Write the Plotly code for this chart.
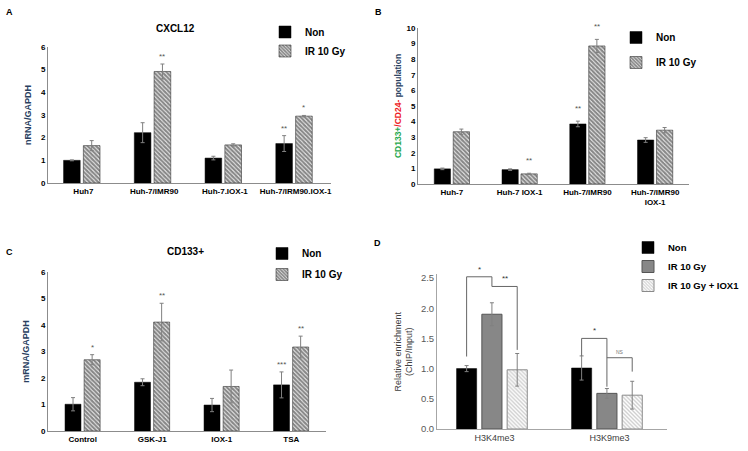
import plotly.graph_objects as go

# ---------------- data ----------------
A_cats = ["Huh7", "Huh-7/IMR90", "Huh-7.IOX-1", "Huh-7/IRM90.IOX-1"]
A_non = [1.00, 2.22, 1.10, 1.74]
A_non_err = [0.02, 0.44, 0.08, 0.35]
A_ir = [1.65, 4.92, 1.68, 2.95]
A_ir_err = [0.22, 0.33, 0.05, 0.03]
A_non_sig = ["", "", "", "**"]
A_ir_sig = ["", "**", "", "*"]

B_cats = ["Huh-7", "Huh-7 IOX-1", "Huh-7/IMR90", "Huh-7/IMR90<br>IOX-1"]
B_non = [0.97, 0.92, 3.85, 2.82]
B_non_err = [0.05, 0.05, 0.18, 0.15]
B_ir = [3.35, 0.65, 8.85, 3.45]
B_ir_err = [0.17, 0.04, 0.42, 0.17]
B_non_sig = ["", "", "**", ""]
B_ir_sig = ["", "**", "**", ""]

C_cats = ["Control", "GSK-J1", "IOX-1", "TSA"]
C_non = [1.01, 1.84, 0.98, 1.74]
C_non_err = [0.25, 0.13, 0.25, 0.49]
C_ir = [2.69, 4.11, 1.68, 3.17]
C_ir_err = [0.19, 0.71, 0.62, 0.41]
C_non_sig = ["", "", "", "***"]
C_ir_sig = ["*", "**", "", "**"]

D_cats = ["H3K4me3", "H3K9me3"]
D_non = [1.00, 1.01]
D_non_err = [0.05, 0.20]
D_ir = [1.90, 0.59]
D_ir_err = [0.19, 0.08]
D_iox = [0.98, 0.56]
D_iox_err = [0.27, 0.23]
# brackets: (category, series_a, series_b, top, left_leg_end, right_leg_end, label)
D_brackets = [
    (0, 0, 1, 2.52, 1.20, 2.36, "*"),
    (0, 1, 2, 2.36, 2.36, 1.31, "**"),
    (1, 0, 1, 1.50, 1.21, 0.70, "*"),
    (1, 1, 2, 1.18, 1.18, 0.95, "NS"),
]

FONT = "Liberation Sans, Arial, sans-serif"
W, H = 748, 451
HATCH = dict(shape="\\", fgcolor="#111111", bgcolor="#ffffff", size=3, solidity=0.75)
LIGHT_HATCH = dict(shape="\\", fgcolor="#a0a0a0", bgcolor="#ffffff", size=2.8, solidity=0.5)
ERR = dict(type="data", color="#808080", thickness=1, width=2)


def px_x(p):
    return p / W


def px_y(p):
    return 1 - p / H


fig = go.Figure()


def add_pair(cats, non, non_err, ir, ir_err, xa, ya, legend, width, offs, groups=False):
    idx = list(range(len(cats)))
    fig.add_trace(go.Bar(
        x=idx, y=non, name="Non", xaxis=xa, yaxis=ya, legend=legend,
        width=width, offset=offs[0],
        marker=dict(color="#000000", line=dict(color="#000000", width=0.5)),
        error_y=dict(array=non_err, **ERR),
        legendgroup=(legend + "a") if groups else None,
    ))
    fig.add_trace(go.Bar(
        x=idx, y=ir, name="IR 10 Gy", xaxis=xa, yaxis=ya, legend=legend,
        width=width, offset=offs[1],
        marker=dict(color="#ffffff", pattern=HATCH, line=dict(color="#333333", width=0.6)),
        error_y=dict(array=ir_err, **ERR),
        legendgroup=(legend + "b") if groups else None,
    ))


# Panel A
add_pair(A_cats, A_non, A_non_err, A_ir, A_ir_err, "x", "y", "legend", 0.235, (-0.28, 0.0))
# Panel B
add_pair(B_cats, B_non, B_non_err, B_ir, B_ir_err, "x2", "y2", "legend2", 0.24, (-0.26, 0.02), groups=True)
# Panel C
add_pair(C_cats, C_non, C_non_err, C_ir, C_ir_err, "x3", "y3", "legend3", 0.23, (-0.255, 0.02), groups=True)

# Panel D
D_width = 0.175
D_offs = [-0.33, -0.11, 0.11]
D_idx = list(range(len(D_cats)))
fig.add_trace(go.Bar(x=D_idx, y=D_non, name="Non", xaxis="x4", yaxis="y4", legend="legend4",
                     width=D_width, offset=D_offs[0],
                     marker=dict(color="#000000", line=dict(color="#000000", width=0.5)),
                     error_y=dict(array=D_non_err, **ERR)))
fig.add_trace(go.Bar(x=D_idx, y=D_ir, name="IR 10 Gy", xaxis="x4", yaxis="y4", legend="legend4",
                     width=D_width, offset=D_offs[1],
                     marker=dict(color="#878787", line=dict(color="#555555", width=1)),
                     error_y=dict(array=D_ir_err, **ERR)))
fig.add_trace(go.Bar(x=D_idx, y=D_iox, name="IR 10 Gy + IOX1", xaxis="x4", yaxis="y4", legend="legend4",
                     width=D_width, offset=D_offs[2],
                     marker=dict(color="#ffffff", pattern=LIGHT_HATCH, line=dict(color="#8a8a8a", width=1)),
                     error_y=dict(array=D_iox_err, **ERR)))

annotations = []
shapes = []


def sig_marks(vals, errs, labels, xa, ya, off, width, yshift):
    for i, (v, e, lab) in enumerate(zip(vals, errs, labels)):
        if lab:
            annotations.append(dict(
                x=i + off + width / 2, y=v + e, xref=xa, yref=ya, text=lab,
                showarrow=False, yanchor="bottom", yshift=yshift,
                font=dict(family=FONT, size=8, color="#555555")))


sig_marks(A_non, A_non_err, A_non_sig, "x", "y", -0.28, 0.235, 1)
sig_marks(A_ir, A_ir_err, A_ir_sig, "x", "y", 0.0, 0.235, 1)
sig_marks(B_non, B_non_err, B_non_sig, "x2", "y2", -0.26, 0.24, 6)
sig_marks(B_ir, B_ir_err, B_ir_sig, "x2", "y2", 0.02, 0.24, 6)
sig_marks(C_non, C_non_err, C_non_sig, "x3", "y3", -0.255, 0.23, 1)
sig_marks(C_ir, C_ir_err, C_ir_sig, "x3", "y3", 0.02, 0.23, 1)

# D brackets
for cat, a, b, top, lend, rend, lab in D_brackets:
    xa_ = cat + D_offs[a] + D_width / 2
    xb_ = cat + D_offs[b] + D_width / 2
    shapes.append(dict(type="path", xref="x4", yref="y4",
                       path=f"M {xa_} {lend} L {xa_} {top} L {xb_} {top} L {xb_} {rend}",
                       line=dict(color="#666666", width=1)))
    annotations.append(dict(x=(xa_ + xb_) / 2, y=top, xref="x4", yref="y4", text=lab,
                            showarrow=False, yanchor="bottom", yshift=1,
                            font=dict(family=FONT, size=8 if lab != "NS" else 5,
                                      color="#333333" if lab != "NS" else "#777777")))

# titles and panel letters
BOLD = dict(family=FONT, weight="bold", color="#000000")
for txt, x, y, sz in [("A", 9, 12, 9), ("B", 378, 12, 9), ("C", 9, 252, 9), ("D", 377, 243, 9),
                      ("CXCL12", 175, 28, 10), ("CD133+", 185, 252, 10)]:
    annotations.append(dict(text=txt, x=px_x(x), y=px_y(y), xref="paper", yref="paper",
                            showarrow=False, xanchor="center", yanchor="middle",
                            font=dict(size=sz, **BOLD)))

tick_bold = dict(family=FONT, size=8, weight="bold", color="#000000")
axis_common = dict(showgrid=False, zeroline=False, showline=True, linecolor="#8c8c8c",
                   linewidth=1, ticks="", tickfont=tick_bold)


def xax(domain, cats):
    return dict(domain=domain, type="linear", range=[-0.5, len(cats) - 0.5],
                tickmode="array", tickvals=list(range(len(cats))), ticktext=cats,
                **axis_common)


LEG_FONT = dict(family=FONT, size=10, weight="bold", color="#000000")

fig.update_layout(
    width=W, height=H, margin=dict(l=0, r=0, t=0, b=0, autoexpand=False),
    paper_bgcolor="#ffffff", plot_bgcolor="#ffffff",
    barmode="overlay",
    font=dict(family=FONT),
    xaxis=dict(xax([px_x(48), px_x(331)], A_cats), anchor="y"),
    yaxis=dict(domain=[px_y(183), px_y(47)], range=[0, 6], dtick=1, anchor="x",
               title=dict(text="nRNA/GAPDH", font=dict(family=FONT, size=9, weight="bold"), standoff=7),
               **axis_common),
    xaxis2=dict(xax([px_x(418), px_x(689)], B_cats), anchor="y2"),
    yaxis2=dict(domain=[px_y(184), px_y(28)], range=[0, 10], dtick=1, anchor="x2",
                title=dict(text='<span style="color:#1fa84f">CD133+</span>'
                                '<span style="color:#ee1c25">/CD24-</span> population',
                           font=dict(family=FONT, size=8.5, weight="bold"), standoff=3),
                **axis_common),
    xaxis3=dict(xax([px_x(48), px_x(326)], C_cats), anchor="y3"),
    yaxis3=dict(domain=[px_y(431), px_y(272)], range=[0, 6], dtick=1, anchor="x3",
                title=dict(text="mRNA/GAPDH", font=dict(family=FONT, size=9, weight="bold"), standoff=9),
                **axis_common),
    xaxis4=dict(domain=[px_x(437), px_x(667)], type="linear", range=[-0.5, 1.5],
                tickmode="array", tickvals=D_idx, ticktext=D_cats, anchor="y4",
                showgrid=False, zeroline=False, showline=True, linecolor="#a6a6a6", ticks="",
                tickfont=dict(family=FONT, size=9, color="#404040")),
    yaxis4=dict(domain=[px_y(429), px_y(429 - 2.56 * 151 / 2.5)], range=[0, 2.56],
                tickmode="array", tickvals=[0, 0.5, 1.0, 1.5, 2.0, 2.5], tickformat=".1f",
                anchor="x4", showgrid=False, zeroline=False, showline=True, linecolor="#a6a6a6",
                ticks="", tickfont=dict(family=FONT, size=9.5, color="#595959"),
                title=dict(text="Relative enrichment<br>(ChIP/Input)",
                           font=dict(family=FONT, size=9, color="#404040"), standoff=6)),
    legend=dict(x=px_x(265), y=px_y(17.5), xanchor="left", yanchor="top",
                bgcolor="rgba(0,0,0,0)", font=LEG_FONT),
    legend2=dict(x=px_x(616), y=px_y(23), xanchor="left", yanchor="top", tracegroupgap=6,
                 bgcolor="rgba(0,0,0,0)", font=LEG_FONT),
    legend3=dict(x=px_x(262), y=px_y(239), xanchor="left", yanchor="top", tracegroupgap=2,
                 bgcolor="rgba(0,0,0,0)", font=LEG_FONT),
    legend4=dict(x=px_x(628), y=px_y(233), xanchor="left", yanchor="top",
                 bgcolor="rgba(0,0,0,0)", font=dict(family=FONT, size=9.5, weight="bold", color="#000000")),
    annotations=annotations,
    shapes=shapes,
)

fig.write_html("out.html", config={"displayModeBar": False},
               post_script="document.body.style.margin='0';")
